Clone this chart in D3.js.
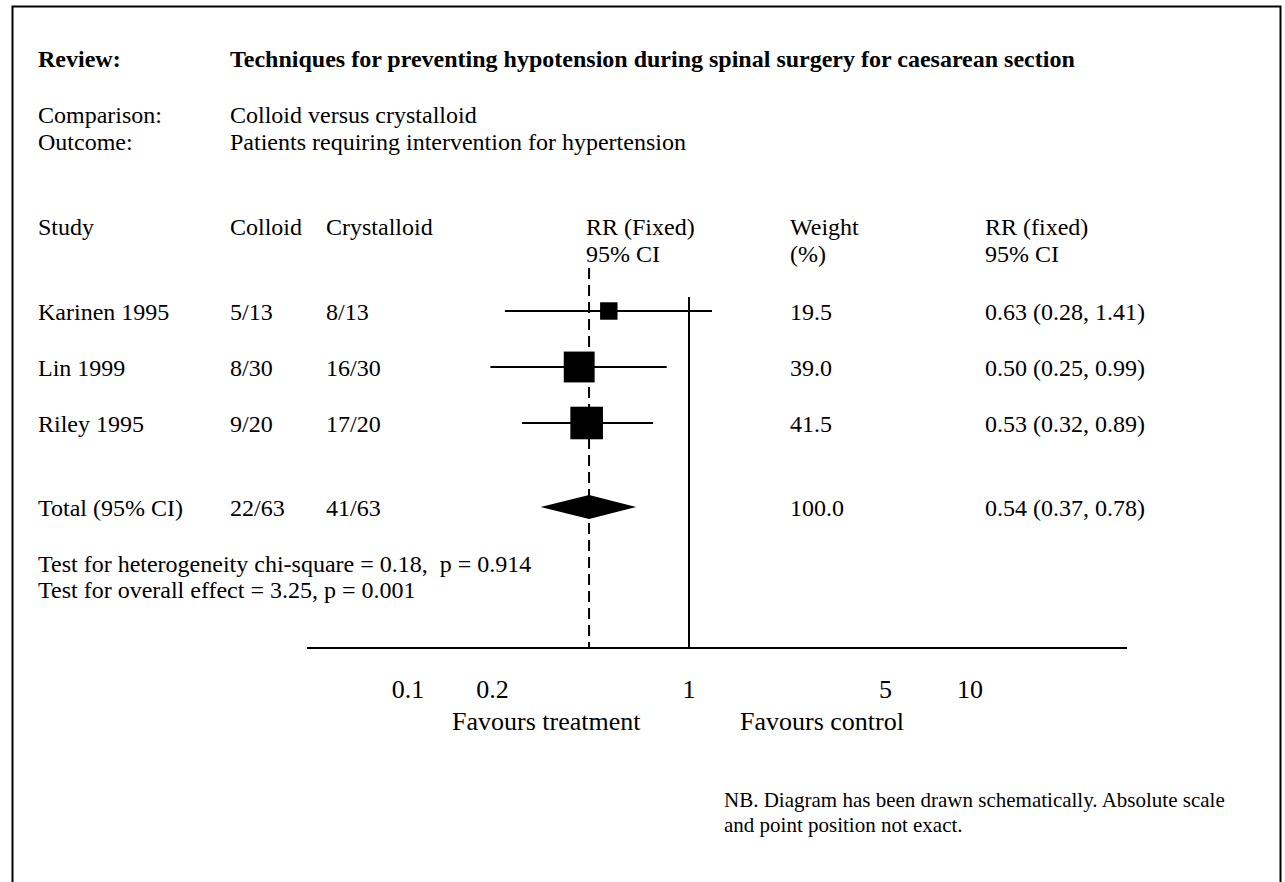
<!DOCTYPE html>
<html>
<head>
<meta charset="utf-8">
<script src="https://cdn.jsdelivr.net/npm/d3@7"></script>
<style>
  html, body { margin: 0; padding: 0; background: #fff; }
  svg { display: block; }
  text { font-family: "Liberation Serif", "Times New Roman", serif; fill: #000; }
</style>
</head>
<body>
<svg id="chart" width="1285" height="882"></svg>
<script>
// Forest plot: colloid vs crystalloid, patients requiring intervention
const studies      = ["Karinen 1995", "Lin 1999", "Riley 1995"];
const colloid      = ["5/13", "8/30", "9/20"];
const crystalloid  = ["8/13", "16/30", "17/20"];
const rr           = [0.63, 0.50, 0.53];
const ciLow        = [0.28, 0.25, 0.32];
const ciHigh       = [1.41, 0.99, 0.89];
const weights      = [19.5, 39.0, 41.5];

const totalLabel   = "Total (95% CI)";
const totalColloid = "22/63";
const totalCryst   = "41/63";
const totalRR      = 0.54;
const totalLow     = 0.37;
const totalHigh    = 0.78;
const totalWeight  = 100.0;

const axisTicks    = [0.1, 0.2, 1, 5, 10];

const svg = d3.select("#chart");
const fmt2 = d3.format(".2f");
const fmt1 = d3.format(".1f");

// Page frame
svg.append("rect")
  .attr("x", 12.5).attr("y", 6.5)
  .attr("width", 1268).attr("height", 920)
  .attr("fill", "none").attr("stroke", "#000").attr("stroke-width", 2);

const FS = 24;
function txt(x, y, s, opts = {}) {
  return svg.append("text")
    .attr("x", x).attr("y", y)
    .attr("font-size", opts.size || FS)
    .attr("font-weight", opts.bold ? "bold" : null)
    .attr("text-anchor", opts.anchor || "start")
    .text(s);
}

// Header block
txt(38, 67, "Review:", { bold: true });
txt(230, 67, "Techniques for preventing hypotension during spinal surgery for caesarean section", { bold: true });
txt(38, 123, "Comparison:");
txt(230, 123, "Colloid versus crystalloid");
txt(38, 150, "Outcome:");
txt(230, 150, "Patients requiring intervention for hypertension");

// Column headings
const col = { study: 38, colloid: 230, cryst: 326, plot: 586, weight: 790, ci: 985 };
txt(col.study, 235, "Study");
txt(col.colloid, 235, "Colloid");
txt(col.cryst, 235, "Crystalloid");
txt(col.plot, 235, "RR (Fixed)");
txt(col.plot, 262, "95% CI");
txt(col.weight, 235, "Weight");
txt(col.weight, 262, "(%)");
txt(col.ci, 235, "RR (fixed)");
txt(col.ci, 262, "95% CI");

// Scales
const x = d3.scaleLog().domain([0.1, 10]).range([373, 963]);      // marks
const axisX = d3.scaleLog().domain([0.1, 10]).range([408, 970]);  // printed axis
const rowY = d3.scaleLinear().domain([0, 1]).range([320, 376]);   // text baselines by row
const markOffset = 9;
const side = d3.scaleLinear().domain([0, 45]).range([4, 35]);

const axisY = 648;

// Line of no effect
svg.append("line")
  .attr("x1", axisX(1)).attr("x2", axisX(1))
  .attr("y1", 297).attr("y2", axisY)
  .attr("stroke", "#000").attr("stroke-width", 2);

// Pooled estimate (dashed)
svg.append("line")
  .attr("x1", x(totalRR)).attr("x2", x(totalRR))
  .attr("y1", 268).attr("y2", axisY)
  .attr("stroke", "#000").attr("stroke-width", 2)
  .attr("stroke-dasharray", "11,6");

// Study rows
const rows = studies.map((s, i) => ({
  study: s, colloid: colloid[i], cryst: crystalloid[i],
  rr: rr[i], lo: ciLow[i], hi: ciHigh[i], w: weights[i], idx: i
}));

const g = svg.append("g");
rows.forEach(d => {
  const yb = rowY(d.idx);
  const ym = yb - markOffset;
  txt(col.study, yb, d.study);
  txt(col.colloid, yb, d.colloid);
  txt(col.cryst, yb, d.cryst);
  txt(col.weight, yb, fmt1(d.w));
  txt(col.ci, yb, `${fmt2(d.rr)} (${fmt2(d.lo)}, ${fmt2(d.hi)})`);

  g.append("line")
    .attr("x1", x(d.lo)).attr("x2", x(d.hi))
    .attr("y1", ym).attr("y2", ym)
    .attr("stroke", "#000").attr("stroke-width", 2);
  const s = side(d.w);
  g.append("rect")
    .attr("x", x(d.rr) - s / 2).attr("y", ym - s / 2)
    .attr("width", s).attr("height", s)
    .attr("fill", "#000");
});

// Total row
const totIdx = 3.5;
const yt = rowY(totIdx);
txt(col.study, yt, totalLabel);
txt(col.colloid, yt, totalColloid);
txt(col.cryst, yt, totalCryst);
txt(col.weight, yt, fmt1(totalWeight));
txt(col.ci, yt, `${fmt2(totalRR)} (${fmt2(totalLow)}, ${fmt2(totalHigh)})`);
const ymt = yt - markOffset;
const dh = 12;
svg.append("path")
  .attr("d", d3.line()([
    [x(totalLow), ymt], [x(totalRR), ymt - dh],
    [x(totalHigh), ymt], [x(totalRR), ymt + dh]
  ]) + "Z")
  .attr("fill", "#000");

// Tests
txt(38, 572, "Test for heterogeneity chi-square = 0.18,  p = 0.914").attr("xml:space", "preserve").style("white-space", "pre");
txt(38, 598, "Test for overall effect = 3.25, p = 0.001");

// Axis
svg.append("line")
  .attr("x1", 307).attr("x2", 1127)
  .attr("y1", axisY).attr("y2", axisY)
  .attr("stroke", "#000").attr("stroke-width", 2);

svg.append("g").selectAll("text")
  .data(axisTicks).join("text")
  .attr("x", d => axisX(d)).attr("y", 698)
  .attr("font-size", 26)
  .attr("text-anchor", "middle")
  .text(d => String(d));

txt(452, 730, "Favours treatment", { size: 26 });
txt(740, 730, "Favours control", { size: 26 });

// Note
txt(724, 807, "NB. Diagram has been drawn schematically. Absolute scale", { size: 21 });
txt(724, 832, "and point position not exact.", { size: 21 });
</script>
</body>
</html>
